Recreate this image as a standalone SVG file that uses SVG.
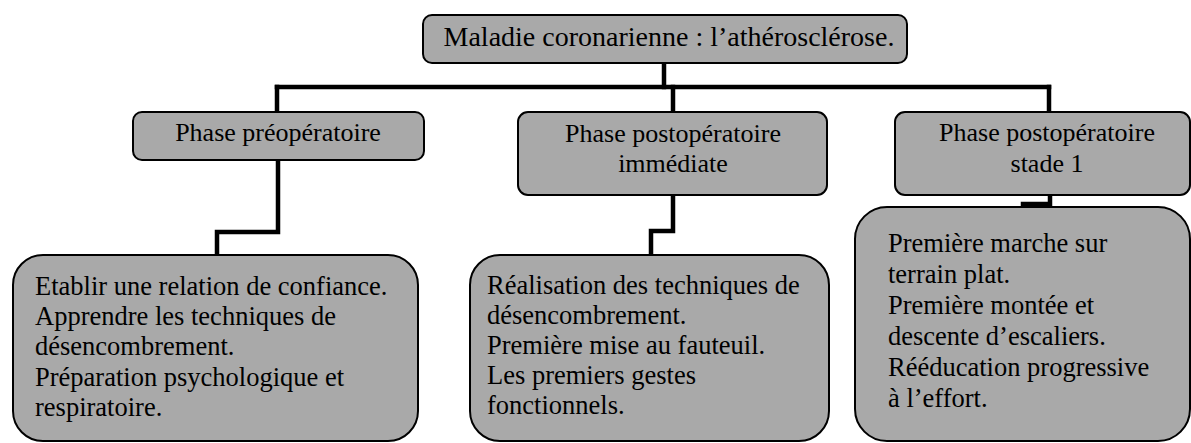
<svg xmlns="http://www.w3.org/2000/svg" width="1191" height="443" viewBox="0 0 1191 443">
<style>
.box{fill:#a9a9a9;stroke:#000;stroke-width:2}
.t{font-family:"Liberation Serif","Times New Roman",serif;fill:#000;font-size:26.5px}
.h{font-size:26px}
.title{font-size:28px}
.c{text-anchor:middle}
.conn{fill:none;stroke:#000;stroke-width:4.5;stroke-linejoin:miter;stroke-linecap:square}
</style>
<rect width="1191" height="443" fill="#fff"/>
<g id="connectors">
<path class="conn" d="M664,64 V87"/>
<path class="conn" d="M277,87 H1049"/>
<path class="conn" d="M277,87 V111"/>
<path class="conn" d="M673,87 V111"/>
<path class="conn" d="M1049,87 V111"/>
<path class="conn" d="M278,161 V232 H217 V254"/>
<path class="conn" d="M673,196 V231 H651 V254"/>
<path class="conn" d="M1050,196 V204 H1023 V207"/>
</g>
<g id="n-root">
<rect class="box" x="423" y="15" width="484" height="48" rx="9"/>
<text class="t title c" x="669" y="46">Maladie coronarienne : l’athérosclérose.</text>
</g>
<g id="n-pre">
<rect class="box" x="133" y="112" width="291" height="48" rx="9"/>
<text class="t h c" x="278" y="141">Phase préopératoire</text>
</g>
<g id="n-postimm">
<rect class="box" x="518" y="112" width="309" height="83" rx="10"/>
<text class="t h c" x="673" y="142">Phase postopératoire</text>
<text class="t h c" x="673" y="172">immédiate</text>
</g>
<g id="n-post1">
<rect class="box" x="895" y="112" width="295" height="83" rx="10"/>
<text class="t h c" x="1047" y="141">Phase postopératoire</text>
<text class="t h c" x="1047" y="172">stade 1</text>
</g>
<g id="n-pre-detail">
<rect class="box" x="13" y="255" width="405" height="186" rx="30"/>
<text class="t" x="35" y="295">Etablir une relation de confiance.</text>
<text class="t" x="35" y="325">Apprendre les techniques de</text>
<text class="t" x="35" y="355">désencombrement.</text>
<text class="t" x="35" y="386">Préparation psychologique et</text>
<text class="t" x="35" y="416">respiratoire.</text>
</g>
<g id="n-postimm-detail">
<rect class="box" x="470" y="255" width="359" height="186" rx="30"/>
<text class="t" x="487" y="294">Réalisation des techniques de</text>
<text class="t" x="487" y="324">désencombrement.</text>
<text class="t" x="487" y="354">Première mise au fauteuil.</text>
<text class="t" x="487" y="384">Les premiers gestes</text>
<text class="t" x="487" y="414">fonctionnels.</text>
</g>
<g id="n-post1-detail">
<rect class="box" x="855" y="207" width="335" height="234" rx="32"/>
<text class="t" x="888" y="252">Première marche sur</text>
<text class="t" x="888" y="283">terrain plat.</text>
<text class="t" x="888" y="314">Première montée et</text>
<text class="t" x="888" y="345">descente d’escaliers.</text>
<text class="t" x="888" y="376">Rééducation progressive</text>
<text class="t" x="888" y="407">à l’effort.</text>
</g>
</svg>
